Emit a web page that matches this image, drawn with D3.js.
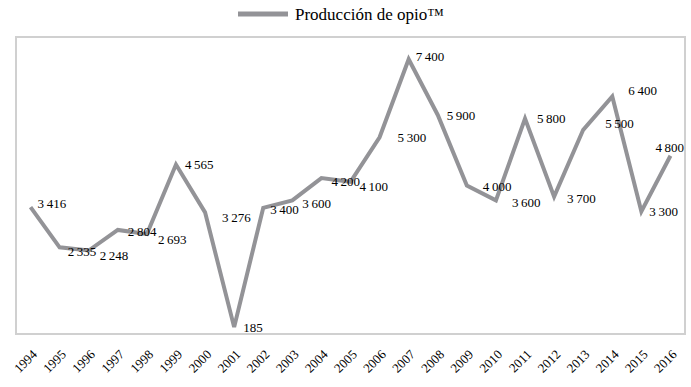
<!DOCTYPE html>
<html>
<head>
<meta charset="utf-8">
<script src="https://cdn.jsdelivr.net/npm/d3@7"></script>
<style>
  body { margin: 0; background: #fff; }
</style>
</head>
<body>
<script>
// SET UP DIMENSIONS
var w = 691,
    h = 387;

var frame = { left: 16, top: 37, right: 685, bottom: 334 };
var serif = '"Liberation Serif", "Times New Roman", "DejaVu Serif", serif';

// data
var years = ['1994', '1995', '1996', '1997', '1998', '1999', '2000', '2001', '2002', '2003', '2004',
  '2005', '2006', '2007', '2008', '2009', '2010', '2011', '2012', '2013', '2014', '2015', '2016'];
var opio = [3416, 2335, 2248, 2804, 2693, 4565, 3276, 185, 3400, 3600, 4200,
  4100, 5300, 7400, 5900, 4000, 3600, 5800, 3700, 5500, 6400, 3300, 4800];
var seriesName = 'Producción de opio™';

// label offsets from each point (left edge, vertical centre), as placed in the original
var labelDx = [7, 8, 11, 10, 11, 9, 17, 9, 7, 10, 10, 9, 18, 7, 9, 16, 16, 12, 13, 22, 16, 8, -15];
var labelDy = [-4, 4, 5, 2, 5, 0, 5, 0, 2, 3, 3, 5, 0, -3, 0, 1, 2, 0, 2, -6, -6, 0, -8];

var data = years.map(function(y, i) { return { year: y, value: opio[i] }; });

// number format with thin space as thousands separator
var fmt = d3.formatLocale({ decimal: ',', thousands: '\u2009', grouping: [3], currency: ['', ''] }).format(',d');

var svg = d3.select('body').append('svg')
  .attr('width', w)
  .attr('height', h)
  .attr('font-family', serif);

// SCALES
var xScale = d3.scaleBand()
  .domain(years)
  .range([frame.left, frame.right]);

var yScale = d3.scaleLinear()
  .domain([0, 8000])
  .range([frame.bottom, frame.top]);

function cx(d) { return xScale(d.year) + xScale.bandwidth() / 2; }

// PLOT FRAME
svg.append('rect')
  .attr('x', frame.left)
  .attr('y', frame.top)
  .attr('width', frame.right - frame.left)
  .attr('height', frame.bottom - frame.top)
  .attr('fill', 'none')
  .attr('stroke', '#d0d0d0')
  .attr('stroke-width', 2);

// LINE
var line = d3.line()
  .x(cx)
  .y(function(d) { return yScale(d.value); });

svg.append('path')
  .datum(data)
  .attr('d', line)
  .attr('fill', 'none')
  .attr('stroke', '#939397')
  .attr('stroke-width', 4)
  .attr('stroke-linejoin', 'miter');

// DATA LABELS
svg.selectAll('.label')
  .data(data)
  .enter().append('text')
    .attr('class', 'label')
    .attr('x', function(d, i) { return cx(d) + labelDx[i]; })
    .attr('y', function(d, i) { return yScale(d.value) + labelDy[i]; })
    .attr('dy', '0.35em')
    .attr('font-family', serif)
    .attr('font-size', 13)
    .attr('fill', '#000')
    .text(function(d) { return fmt(d.value); });

// X AXIS (rotated year labels)
var xAxis = d3.axisBottom(xScale).tickSize(0).tickPadding(0);

var gx = svg.append('g')
  .attr('class', 'axis x')
  .attr('transform', translation(0, 352))
  .call(xAxis)
  .attr('font-family', serif)
  .attr('font-size', 13);

gx.select('.domain').remove();
gx.selectAll('text')
  .attr('y', 0)
  .attr('dy', '0.35em')
  .attr('fill', '#000')
  .attr('transform', 'translate(4,0) rotate(-45)')
  .style('text-anchor', 'end');

// LEGEND
var legend = svg.append('g')
  .attr('transform', translation(238, 14));

legend.append('line')
  .attr('x1', 0)
  .attr('x2', 50)
  .attr('y1', 0)
  .attr('y2', 0)
  .attr('stroke', '#939397')
  .attr('stroke-width', 5);

legend.append('text')
  .attr('x', 57)
  .attr('y', 0)
  .attr('dy', '0.35em')
  .attr('font-family', serif)
  .attr('font-size', 17)
  .attr('fill', '#000')
  .text(seriesName);

function translation(x, y) {
  return 'translate(' + x + ',' + y + ')';
}
</script>
</body>
</html>
